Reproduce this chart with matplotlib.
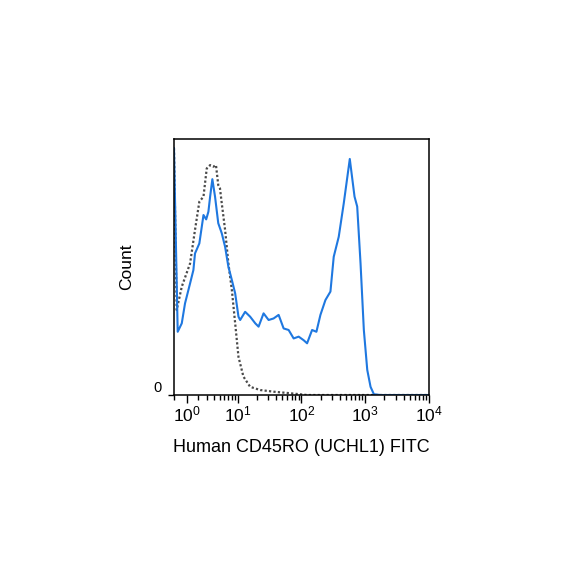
import matplotlib
matplotlib.use("Agg")
import matplotlib.pyplot as plt
import numpy as np

plt.rcParams["font.family"] = ["Liberation Sans", "DejaVu Sans"]
plt.rcParams["mathtext.fontset"] = "custom"
plt.rcParams["mathtext.rm"] = "Liberation Sans"
plt.rcParams["mathtext.it"] = "Liberation Sans"

# CD45RO stained sample (blue, solid)
stain_x = [0, 0.27, 0.57, 0.82, 1.23, 1.52, 1.67, 2.10, 2.56, 2.89, 3.18, 3.42,
           3.75, 4.18, 4.75, 5.44, 6.18, 7.0, 7.97, 9.01, 10.18, 10.83, 13.0,
           15.6, 18.8, 21.2, 25.4, 30.5, 36.5, 43.8, 52.5, 62.9, 75.4, 90.4,
           108.3, 122.5, 146.8, 171.6, 198.4, 237.7, 284.8, 320.8, 384.4, 461,
           573, 680, 749, 845, 952, 1077, 1213, 1368, 1745, 10000]
stain_y = [96.4, 24.7, 28.0, 35.8, 43.6, 48.8, 55.3, 59.2, 70.3, 68.6, 71.6, 77.5,
           84.3, 77.5, 67.1, 63.2, 57.9, 50.1, 44.9, 39.7, 30.6, 29.3, 32.5,
           30.6, 28.0, 26.7, 31.9, 29.3, 29.9, 31.3, 26.0, 25.4, 22.1, 22.8,
           21.4, 20.2, 25.4, 24.7, 31.3, 37.1, 40.4, 54.0, 61.8, 74.9,
           92.2, 77.5, 73.6, 51.4, 25.4, 9.8, 3.2, 0.3, 0.0, 0.0]

# isotype control (grey, dotted)
iso_x = [0, 0.196, 0.57, 1.23, 1.67, 2.10, 2.56, 2.96, 3.42, 3.92, 4.34, 4.75,
         5.08, 5.44, 6.18, 7.0, 7.97, 9.01, 10.18, 12.2, 15.6, 22.5, 36.5,
         66.3, 122.5, 10000]
iso_y = [96.4, 33.2, 42.3, 51.4, 64.5, 75.5, 77.5, 88.5, 89.8, 89.2, 89.8, 82.0,
         80.7, 74.9, 64.5, 51.4, 41.0, 28.0, 14.9, 7.2, 3.2, 1.95, 1.3,
         0.7, 0.0, 0.0]

major_ticks = [1, 10, 100, 1000, 10000]
major_labels = [r"$10^{0}$", r"$10^{1}$", r"$10^{2}$", r"$10^{3}$", r"$10^{4}$"]

fig = plt.figure(figsize=(5.84, 5.84), dpi=100)
ax = fig.add_axes([0.2979, 0.3236, 0.4366, 0.4384])

ax.plot(iso_x, iso_y, color="#4a4a4a", linestyle=(0, (1, 1)), linewidth=1.6)
ax.plot(stain_x, stain_y, color="#1f78e0", linewidth=1.5)

ax.set_xscale("asinh", linear_width=2.0)
ax.set_xlim(0, 10000)
ax.set_ylim(0, 100)

ax.set_xticks(major_ticks)
ax.set_xticklabels(major_labels, fontsize=12.5)
minor = [0] + [k * 10 ** d for d in range(0, 4) for k in range(2, 10)]
ax.set_xticks(minor, minor=True)
ax.tick_params(axis="x", which="major", length=6, width=1, pad=1)
ax.tick_params(axis="x", which="minor", length=3.5, width=1)

ax.set_yticks([0])
ax.set_yticklabels(["0"], fontsize=10.5, va="bottom")
ax.tick_params(axis="y", which="major", length=4, width=1, pad=5)
ax.tick_params(axis="y", which="minor", left=False)

for s in ax.spines.values():
    s.set_linewidth(1.1)

ax.set_xlabel("Human CD45RO (UCHL1) FITC", fontsize=13, labelpad=10)
ax.set_ylabel("Count", fontsize=12.5, labelpad=14)

fig.savefig("out.png", dpi=100)
